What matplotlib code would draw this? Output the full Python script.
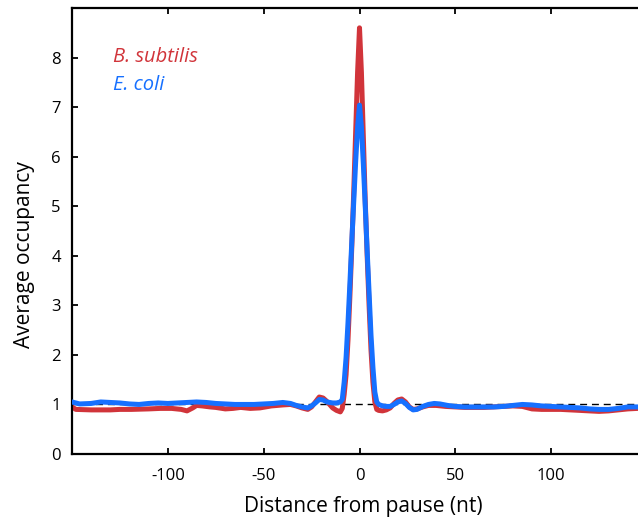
import numpy as np
import matplotlib.pyplot as plt

plt.rcParams['font.family'] = ['Open Sans', 'DejaVu Sans']
plt.rcParams['axes.unicode_minus'] = False

# E. coli (blue)
ecoli_x = [-150, -146, -140, -135, -130, -125, -120, -115, -110, -105, -100, -95, -90, -85,
           -80, -75, -70, -65, -60, -55, -50, -45, -40, -36, -33, -30, -27, -25, -23, -21,
           -19, -17, -14, -12, -10, -9, -8, -7, -6, -5, -4, -3, -2, -1, 0, 1, 2, 3, 4, 5,
           6, 7, 8, 9, 10, 12, 14, 16, 18, 20, 22, 24, 26, 28, 30, 33, 36, 39, 42, 46, 50,
           55, 60, 65, 70, 75, 80, 85, 90, 95, 100, 105, 110, 115, 120, 125, 130, 135, 140,
           145, 150]
ecoli_y = [1.05, 1.01, 1.02, 1.05, 1.04, 1.03, 1.01, 1.00, 1.02, 1.03, 1.02, 1.03, 1.04, 1.05,
           1.04, 1.02, 1.01, 1.00, 1.00, 1.00, 1.01, 1.02, 1.04, 1.02, 0.98, 0.95, 0.93, 0.97,
           1.03, 1.10, 1.09, 1.05, 1.03, 1.03, 1.05, 1.10, 1.45, 1.95, 2.65, 3.45, 4.30, 5.10,
           5.90, 6.60, 7.04, 6.60, 5.85, 5.00, 4.10, 3.25, 2.40, 1.75, 1.25, 1.05, 1.00, 0.97,
           0.96, 0.96, 1.00, 1.05, 1.07, 1.02, 0.94, 0.89, 0.90, 0.96, 1.00, 1.02, 1.01, 0.98,
           0.96, 0.95, 0.95, 0.95, 0.95, 0.96, 0.98, 1.00, 0.99, 0.97, 0.96, 0.95, 0.94, 0.93,
           0.91, 0.90, 0.90, 0.92, 0.95, 0.95, 0.95]

# B. subtilis (red)
bsub_x = [-150, -148, -140, -135, -130, -125, -119, -110, -104, -98, -93, -90, -87, -85, -82,
          -78, -75, -70, -66, -62, -57, -52, -46, -40, -36, -33, -30, -27, -25, -23, -21,
          -19, -17, -14, -12, -10, -9, -8, -7, -6, -5, -4, -3, -2, -1, 0, 1, 2, 3, 4, 5, 6,
          7, 8, 9, 10, 12, 14, 16, 18, 20, 22, 24, 26, 28, 30, 33, 36, 40, 45, 50, 55, 60,
          65, 70, 75, 80, 85, 90, 95, 100, 105, 110, 115, 120, 125, 130, 135, 140, 145, 150]
bsub_y = [0.95, 0.90, 0.89, 0.89, 0.89, 0.90, 0.90, 0.91, 0.92, 0.92, 0.90, 0.87, 0.93, 0.98,
          0.97, 0.95, 0.94, 0.91, 0.92, 0.94, 0.92, 0.93, 0.97, 0.99, 1.00, 0.97, 0.93, 0.90,
          0.95, 1.05, 1.15, 1.13, 1.06, 0.93, 0.88, 0.85, 0.92, 1.20, 1.60, 2.30, 3.20, 4.20,
          5.30, 6.50, 7.70, 8.60, 7.70, 6.40, 5.10, 4.00, 3.00, 2.10, 1.45, 1.05, 0.90, 0.88,
          0.87, 0.89, 0.93, 1.02, 1.09, 1.11, 1.05, 0.95, 0.90, 0.91, 0.95, 0.98, 0.98, 0.96,
          0.95, 0.94, 0.94, 0.94, 0.95, 0.96, 0.97, 0.96, 0.91, 0.90, 0.90, 0.90, 0.89, 0.88,
          0.87, 0.86, 0.87, 0.89, 0.91, 0.92, 0.92]

red = '#D1343A'
blue = '#1670FF'

fig = plt.figure(figsize=(6.38, 5.21), dpi=100)
ax = fig.add_axes([72 / 638, 67 / 521, 575 / 638, 446 / 521])

ax.axhline(1, color='black', lw=1, ls=(0, (5, 3.5)), zorder=1)
ax.plot(bsub_x, bsub_y, color=red, lw=3.6, solid_joinstyle='round', zorder=2)
ax.plot(ecoli_x, ecoli_y, color=blue, lw=3.6, solid_joinstyle='round', zorder=3)

ax.set_xlim(-150, 150)
ax.set_ylim(0, 9)
ax.set_xticks([-100, -50, 0, 50, 100])
ax.set_yticks(range(0, 9))
ax.tick_params(direction='in', top=True, length=4, width=1.3, labelsize=12)
ax.tick_params(axis='x', pad=10)
ax.tick_params(axis='y', pad=8)
for s in ax.spines.values():
    s.set_linewidth(1.6)

ax.set_xlabel('Distance from pause (nt)', fontsize=15)
ax.set_ylabel('Average occupancy', fontsize=15)
ax.xaxis.set_label_coords(0.506, -0.117)
ax.yaxis.set_label_coords(-0.082, 0.448)
ax.xaxis.label.set_va('center')
ax.yaxis.label.set_va('center')

fig.text(113 / 638, 1 - 57 / 521, 'B. subtilis', color=red, fontsize=14.5,
         style='italic', va='center')
fig.text(113 / 638, 1 - 85 / 521, 'E. coli', color=blue, fontsize=14.5,
         style='italic', va='center')

fig.savefig('out.png', dpi=100)
